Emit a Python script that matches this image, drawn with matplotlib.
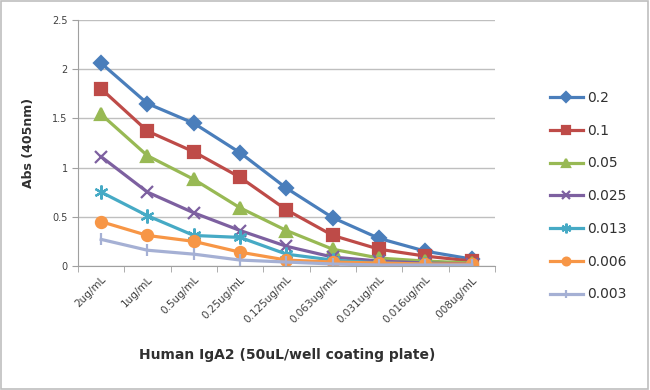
import numpy as np
import matplotlib.pyplot as plt
from matplotlib.patches import Rectangle

categories = ['2ug/mL', '1ug/mL', '0.5ug/mL', '0.25ug/mL', '0.125ug/mL',
              '0.063ug/mL', '0.031ug/mL', '0.016ug/mL', '.008ug/mL']
series_names = ['0.2', '0.1', '0.05', '0.025', '0.013', '0.006', '0.003']
s_02 = [2.06, 1.65, 1.45, 1.15, 0.79, 0.49, 0.28, 0.15, 0.07]
s_01 = [1.80, 1.37, 1.16, 0.90, 0.57, 0.31, 0.17, 0.10, 0.05]
s_005 = [1.54, 1.12, 0.88, 0.59, 0.36, 0.17, 0.08, 0.05, 0.03]
s_0025 = [1.11, 0.75, 0.54, 0.36, 0.20, 0.09, 0.05, 0.03, 0.02]
s_0013 = [0.75, 0.51, 0.31, 0.29, 0.12, 0.06, 0.03, 0.02, 0.01]
s_0006 = [0.45, 0.31, 0.25, 0.14, 0.06, 0.04, 0.03, 0.02, 0.02]
s_0003 = [0.27, 0.16, 0.12, 0.06, 0.04, 0.02, 0.01, 0.01, 0.01]
values = [s_02, s_01, s_005, s_0025, s_0013, s_0006, s_0003]

colors = ['#4A7EBB', '#BE4B48', '#98B954', '#7D60A0', '#46AAC5', '#F79646', '#A5B0D4']
markers = ['D', 's', '^', 'x', (6, 2, 0), 'o', '|']
msizes = [7, 8, 8, 9, 10, 8, 9]

fig = plt.figure(figsize=(6.5, 3.9), dpi=100)
fig.patches.append(Rectangle((0.002, 0.003), 0.995, 0.994, transform=fig.transFigure,
                             fill=False, edgecolor='#BFBFBF', linewidth=1.2))
ax = fig.add_axes([0.12, 0.318, 0.6415, 0.631])

x = np.arange(len(categories))
for name, vals, c, m, ms in zip(series_names, values, colors, markers, msizes):
    ax.plot(x, vals, color=c, marker=m, markersize=ms, linewidth=2.3,
            markeredgewidth=1.6, markeredgecolor=c, label=name)

ax.set_xlim(-0.5, len(categories) - 0.5)
ax.set_ylim(0, 2.5)
ax.set_yticks(np.arange(0, 2.51, 0.5))
ax.set_yticklabels(['0', '0.5', '1', '1.5', '2', '2.5'])
ax.set_xticks(x)
ax.set_xticklabels(categories, rotation=45, ha='right', rotation_mode='anchor')
ax.set_xticks(np.arange(-0.5, len(categories), 1), minor=True)
ax.tick_params(axis='x', which='major', length=0, labelsize=7.5, colors='#404040', pad=6)
ax.tick_params(axis='x', which='minor', length=4, color='#A0A0A0', direction='out')
ax.tick_params(axis='y', length=4, color='#A0A0A0', labelsize=7, colors='#404040')
ax.grid(axis='y', color='#BFBFBF', linewidth=1)
ax.set_axisbelow(True)
for side in ['top', 'right']:
    ax.spines[side].set_visible(False)
for side in ['left', 'bottom']:
    ax.spines[side].set_color('#A0A0A0')

ax.set_ylabel('Abs (405nm)', fontsize=9, fontweight='bold', color='#303030', labelpad=12)
fig.text(0.442, 0.08, 'Human IgA2 (50uL/well coating plate)', fontsize=10,
         fontweight='bold', color='#303030', ha='center')

leg = ax.legend(loc='upper left', bbox_to_anchor=(1.101, 0.762), frameon=False,
                fontsize=10, labelspacing=1.35, handlelength=2.4, handletextpad=0.3,
                markerscale=0.7)
for t in leg.get_texts():
    t.set_color('#303030')

fig.savefig('out.png', dpi=100)
